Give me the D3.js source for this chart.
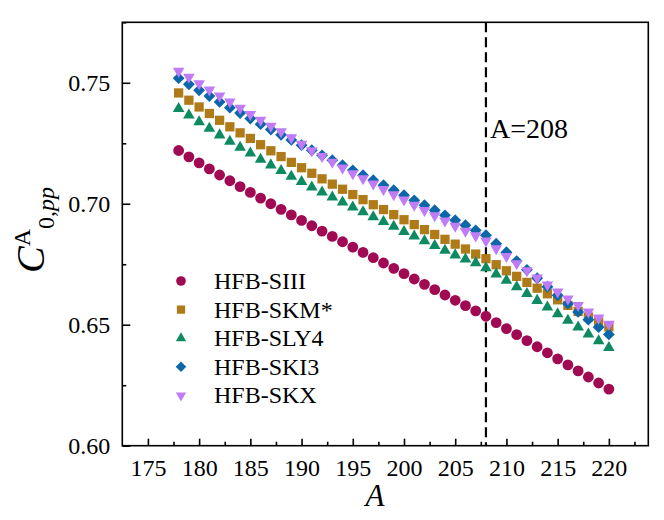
<!DOCTYPE html>
<html>
<head>
<meta charset="utf-8">
<script src="https://cdn.jsdelivr.net/npm/d3@7"></script>
<style>
  html, body { margin: 0; padding: 0; background: #fff; }
  svg { display: block; }
  text { font-family: "Liberation Serif", "Times New Roman", serif; fill: #000; }
</style>
</head>
<body>
<div id="chart"></div>
<script>
// ---------- data ----------
const massNumbers = d3.range(178, 221); // A = 178 ... 220
const seriesNames = ["HFB-SIII", "HFB-SKM*", "HFB-SLY4", "HFB-SKI3", "HFB-SKX"];
const hfbSIII = [0.7220,0.7194,0.7169,0.7144,0.7119,0.7095,0.7071,0.7047,0.7023,0.7000,0.6977,0.6954,0.6931,0.6909,0.6887,0.6865,0.6843,0.6821,0.6799,0.6777,0.6755,0.6733,0.6711,0.6689,0.6667,0.6645,0.6623,0.6601,0.6579,0.6557,0.6535,0.6509,0.6484,0.6459,0.6434,0.6409,0.6384,0.6359,0.6334,0.6309,0.6284,0.6259,0.6234];
const hfbSKM = [0.7458,0.7428,0.7400,0.7373,0.7345,0.7318,0.7293,0.7270,0.7244,0.7219,0.7195,0.7171,0.7149,0.7126,0.7103,0.7081,0.7060,0.7038,0.7017,0.6996,0.6976,0.6955,0.6934,0.6914,0.6893,0.6873,0.6853,0.6833,0.6813,0.6792,0.6773,0.6748,0.6723,0.6700,0.6675,0.6651,0.6628,0.6603,0.6580,0.6555,0.6532,0.6511,0.6491];
const hfbSLY4 = [0.7393,0.7366,0.7338,0.7311,0.7284,0.7258,0.7233,0.7209,0.7183,0.7160,0.7137,0.7113,0.7091,0.7069,0.7048,0.7027,0.7007,0.6986,0.6966,0.6946,0.6926,0.6906,0.6885,0.6866,0.6846,0.6827,0.6807,0.6788,0.6771,0.6755,0.6735,0.6709,0.6683,0.6656,0.6628,0.6600,0.6573,0.6545,0.6518,0.6490,0.6461,0.6433,0.6405];
const hfbSKI3 = [0.7519,0.7494,0.7469,0.7445,0.7421,0.7397,0.7375,0.7352,0.7329,0.7307,0.7285,0.7264,0.7242,0.7221,0.7200,0.7180,0.7159,0.7138,0.7118,0.7097,0.7077,0.7056,0.7035,0.7014,0.6994,0.6973,0.6952,0.6932,0.6911,0.6890,0.6870,0.6835,0.6800,0.6763,0.6727,0.6692,0.6657,0.6622,0.6587,0.6553,0.6521,0.6490,0.6460];
const hfbSKX = [0.7548,0.7524,0.7497,0.7471,0.7446,0.7421,0.7395,0.7370,0.7346,0.7321,0.7298,0.7273,0.7247,0.7220,0.7196,0.7172,0.7148,0.7125,0.7104,0.7082,0.7060,0.7038,0.7016,0.6995,0.6973,0.6951,0.6929,0.6908,0.6887,0.6868,0.6847,0.6815,0.6783,0.6753,0.6724,0.6694,0.6665,0.6636,0.6607,0.6580,0.6553,0.6528,0.6503];
const xTickValues = [175, 180, 185, 190, 195, 200, 205, 210, 215, 220];
const yTickValues = [0.60, 0.65, 0.70, 0.75];
const markerLine = 208;
const markerLabel = "A=208";

// ---------- styles ----------
const colors = ["#A00A52", "#AF7B19", "#0E8A62", "#0B67A8", "#C07BF7"];
const shapes = [
  {type: d3.symbolCircle, size: 92, rot: 0},
  {type: d3.symbolSquare, size: 86, rot: 0},
  {type: d3.symbolTriangle, size: 58, rot: 0},
  {type: d3.symbolSquare, size: 70, rot: 45},
  {type: d3.symbolTriangle, size: 58, rot: 180}
];
const allSeries = [hfbSIII, hfbSKM, hfbSLY4, hfbSKI3, hfbSKX];

const W = 664, H = 520;
const svg = d3.select("#chart").append("svg").attr("width", W).attr("height", H);

const x = d3.scaleLinear().domain([172.5, 223.85]).range([122.3, 648.3]);
const y = d3.scaleLinear().domain([0.6, 0.775]).range([445.7, 22.3]);

// frame
svg.append("rect")
  .attr("x", x.range()[0]).attr("y", y.range()[1])
  .attr("width", x.range()[1] - x.range()[0]).attr("height", y.range()[0] - y.range()[1])
  .attr("fill", "none").attr("stroke", "#000").attr("stroke-width", 1.6);

// x axis
const xAxis = d3.axisBottom(x).tickValues(xTickValues).tickSize(-7).tickPadding(14).tickFormat(d3.format("d"));
const gx = svg.append("g").attr("transform", `translate(0,${y.range()[0]})`).call(xAxis);
gx.select(".domain").remove();
gx.selectAll(".tick line").attr("stroke", "#000").attr("stroke-width", 1.6);
gx.selectAll(".tick text").attr("font-size", 24).attr("font-family", "Liberation Serif").attr("dy", "0.68em");
const xMinor = d3.axisBottom(x).tickValues(xTickValues.map(v => v + 2.5)).tickSize(-4).tickFormat("");
const gxm = svg.append("g").attr("transform", `translate(0,${y.range()[0]})`).call(xMinor);
gxm.select(".domain").remove();
gxm.selectAll(".tick line").attr("stroke", "#000").attr("stroke-width", 1.6);

// y axis
const yAxis = d3.axisLeft(y).tickValues(yTickValues).tickSize(-8).tickPadding(12).tickFormat(d3.format(".2f"));
const gy = svg.append("g").attr("transform", `translate(${x.range()[0]},0)`).call(yAxis);
gy.select(".domain").remove();
gy.selectAll(".tick line").attr("stroke", "#000").attr("stroke-width", 1.6);
gy.selectAll(".tick text").attr("font-size", 24).attr("font-family", "Liberation Serif");
const yMinor = d3.axisLeft(y).tickValues(yTickValues.map(v => v + 0.025)).tickSize(-4).tickFormat("");
const gym = svg.append("g").attr("transform", `translate(${x.range()[0]},0)`).call(yMinor);
gym.select(".domain").remove();
gym.selectAll(".tick line").attr("stroke", "#000").attr("stroke-width", 1.6);

// dashed vertical line
svg.append("line")
  .attr("x1", x(markerLine)).attr("x2", x(markerLine))
  .attr("y1", y.range()[1]).attr("y2", y.range()[0])
  .attr("stroke", "#000").attr("stroke-width", 2.2).attr("stroke-dasharray", "10,5");
svg.append("text").attr("x", x(markerLine) + 4).attr("y", 138)
  .attr("font-size", 28).text(markerLabel);

// series
allSeries.forEach((vals, i) => {
  const sym = d3.symbol().type(shapes[i].type).size(shapes[i].size);
  svg.append("g").selectAll("path").data(vals).join("path")
    .attr("d", sym)
    .attr("transform", (d, j) => `translate(${x(massNumbers[j])},${y(d)}) rotate(${shapes[i].rot})`)
    .attr("fill", colors[i]);
});

// legend
const legY0 = 281, legDy = 28.6;
seriesNames.forEach((name, i) => {
  const sym = d3.symbol().type(shapes[i].type).size(shapes[i].size * 0.8);
  svg.append("path").attr("d", sym)
    .attr("transform", `translate(181,${legY0 + i * legDy}) rotate(${shapes[i].rot})`)
    .attr("fill", colors[i]);
  svg.append("text").attr("x", 214).attr("y", legY0 + i * legDy + 8)
    .attr("font-size", 24).text(name);
});

// x title
svg.append("text").attr("x", 375).attr("y", 506).attr("text-anchor", "middle")
  .attr("font-size", 31).attr("font-style", "italic").text("A");

// y title
const yt = svg.append("text").attr("transform", "translate(44,273) rotate(-90)");
yt.append("tspan").attr("font-size", 40).attr("font-style", "italic").text("C");
yt.append("tspan").attr("font-size", 24).attr("dy", -14).text("A");
yt.append("tspan").attr("font-size", 24).attr("dy", 24).text("0,");
yt.append("tspan").attr("font-size", 24).attr("font-style", "italic").text("pp");
</script>
</body>
</html>
